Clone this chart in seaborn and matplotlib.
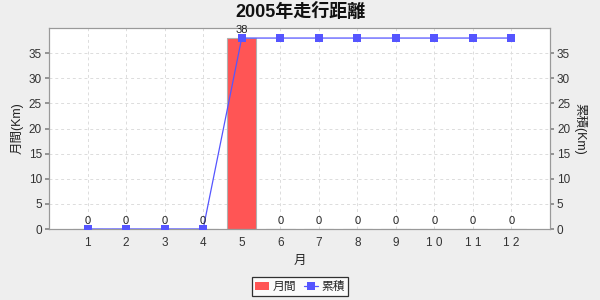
import matplotlib
matplotlib.use("Agg")
import matplotlib.pyplot as plt
import seaborn as sns
import numpy as np
import pandas as pd
from matplotlib.patches import Patch
from matplotlib.lines import Line2D

months = ["1", "2", "3", "4", "5", "6", "7", "8", "9", "1 0", "1 1", "1 2"]
monthly = [0, 0, 0, 0, 38, 0, 0, 0, 0, 0, 0, 0]
cumulative = [0, 0, 0, 0, 38, 38, 38, 38, 38, 38, 38, 38]
title = "2005年走行距離"
xlabel = "月"
ylabel_left = "月間(Km)"
ylabel_right = "累積(Km)"
series_names = ["月間", "累積"]

sns.set_theme(style="white")
plt.rcParams['font.family'] = ['Liberation Sans', 'Noto Sans CJK JP', 'DejaVu Sans']

bar_color = "#FF5555"
line_color = "#5555FF"

fig = plt.figure(figsize=(6, 3), dpi=100, facecolor="#EEEEEE")
ax = fig.add_axes([49/600, 71/300, 501/600, 201/300])
ax.set_facecolor("white")

df = pd.DataFrame({"month": months, "monthly": monthly, "cumulative": cumulative})
sns.barplot(data=df, x="month", y="monthly", color=bar_color, saturation=1,
            width=0.75, edgecolor="#B0B0B0", linewidth=0.8, ax=ax, zorder=2)

ax.set_ylim(0, 40)
ax.set_xlim(-1, 12)
ax.set_yticks(range(0, 40, 5))
ax.grid(True, color="#DCDCDC", linestyle=(0, (3, 3)), linewidth=0.7)
ax.set_axisbelow(True)

ax2 = ax.twinx()
xs = np.arange(len(months))
sns.lineplot(x=xs, y=cumulative, color=line_color, linewidth=0.9, marker="s",
             markersize=6, markeredgewidth=0, ax=ax2, zorder=3)
ax2.set_ylim(0, 40)
ax2.set_yticks(range(0, 40, 5))
ax2.set_xlim(-1, 12)

# bar value labels
for i, v in enumerate(monthly):
    ax2.annotate(str(v), (i, v), xytext=(0, 2), textcoords="offset points",
                 ha="center", va="bottom", fontsize=8, color="#222222", zorder=5)

for a in (ax, ax2):
    for s in a.spines.values():
        s.set_color("#999999")
        s.set_linewidth(0.8)
ax.tick_params(axis="y", labelsize=8.5, length=3, color="#888888", labelcolor="#333333", pad=2, left=True)
ax.tick_params(axis="x", labelsize=8.5, length=0, labelcolor="#333333", pad=6)
ax2.tick_params(axis="y", labelsize=8.5, length=3, color="#888888", labelcolor="#333333", pad=2, right=True)

ax.set_xlabel(xlabel, fontsize=9, labelpad=4, color="#222222")
ax.set_ylabel(ylabel_left, fontsize=9, labelpad=4, color="#222222")
ax2.set_ylabel(ylabel_right, fontsize=9, rotation=-90, labelpad=12, color="#222222")

fig.suptitle(title, fontsize=13, fontweight="bold", y=0.99, color="#111111")

handles = [Patch(facecolor=bar_color, edgecolor="none"),
           Line2D([0], [0], color=line_color, marker="s", markersize=6,
                  markeredgewidth=0, linewidth=0.9)]
leg = fig.legend(handles, series_names, loc="lower center", bbox_to_anchor=(0.5, 0.0),
                 ncol=2, fontsize=8.5, frameon=True, fancybox=False,
                 handlelength=1.2, handletextpad=0.3, columnspacing=0.6,
                 borderpad=0.3, borderaxespad=0.3)
leg.get_frame().set_edgecolor("black")
leg.get_frame().set_linewidth(0.9)
leg.get_frame().set_facecolor("white")

fig.savefig("out.png", dpi=100, facecolor=fig.get_facecolor())
